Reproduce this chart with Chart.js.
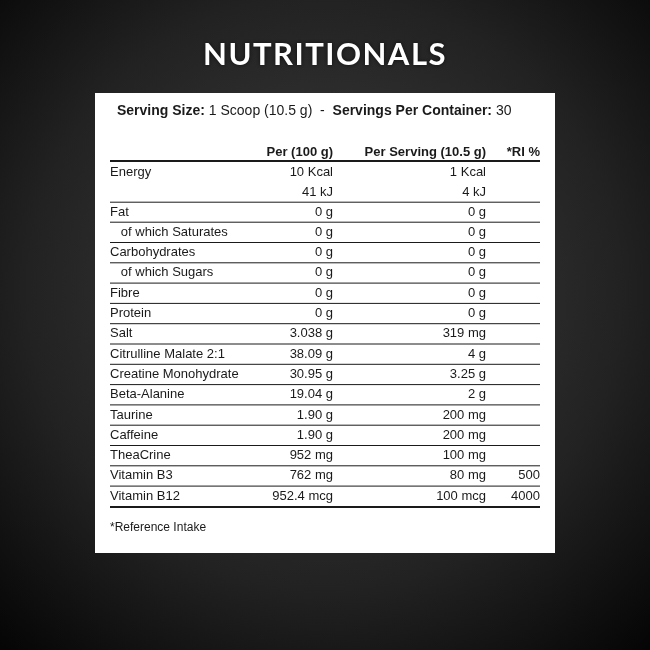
<!DOCTYPE html>
<html><head><meta charset="utf-8">
<script src="https://cdn.jsdelivr.net/npm/chart.js@4"></script>
<style>html,body{margin:0;padding:0;background:#000}canvas{display:block}</style>
</head><body>
<canvas id="c" width="650" height="650"></canvas>
<script>
const title = "NUTRITIONALS";
const servingBold1 = "Serving Size:";
const servingText1 = " 1 Scoop (10.5 g)  -  ";
const servingBold2 = "Servings Per Container:";
const servingText2 = " 30";
const headers = ["", "Per (100 g)", "Per Serving (10.5 g)", "*RI %"];
const labels = ["Energy","","Fat","   of which Saturates","Carbohydrates","   of which Sugars","Fibre","Protein","Salt","Citrulline Malate 2:1","Creatine Monohydrate","Beta-Alanine","Taurine","Caffeine","TheaCrine","Vitamin B3","Vitamin B12"];
const per100 = ["10 Kcal","41 kJ","0 g","0 g","0 g","0 g","0 g","0 g","3.038 g","38.09 g","30.95 g","19.04 g","1.90 g","1.90 g","952 mg","762 mg","952.4 mcg"];
const perServing = ["1 Kcal","4 kJ","0 g","0 g","0 g","0 g","0 g","0 g","319 mg","4 g","3.25 g","2 g","200 mg","200 mg","100 mg","80 mg","100 mcg"];
const riPct = ["","","","","","","","","","","","","","","","500","4000"];
const footnote = "*Reference Intake";

const F = '"Liberation Sans", Arial, sans-serif';
const tablePlugin = {
  id: 'table',
  beforeDraw(chart) {
    const ctx = chart.ctx, W = chart.width, H = chart.height;
    const g = ctx.createRadialGradient(W/2, H*0.45, 20, W/2, H*0.45, 480);
    g.addColorStop(0, '#3e3e3e'); g.addColorStop(0.6, '#222'); g.addColorStop(1, '#050505');
    ctx.fillStyle = g; ctx.fillRect(0, 0, W, H);
  },
  afterDraw(chart) {
    const ctx = chart.ctx, x = chart.scales.x, y = chart.scales.y;
    const X = v => x.getPixelForValue(v), Y = v => y.getPixelForValue(v);
    ctx.save();
    ctx.textBaseline = 'middle';
    ctx.fillStyle = '#fff'; ctx.font = 'bold 31px Lato, "Open Sans", sans-serif';
    ctx.textAlign = 'center';
    if ('letterSpacing' in ctx) ctx.letterSpacing = '1.5px';
    ctx.shadowColor = 'rgba(0,0,0,0.6)'; ctx.shadowBlur = 4;
    ctx.fillText(title, X(325), Y(55));
    ctx.shadowBlur = 0;
    if ('letterSpacing' in ctx) ctx.letterSpacing = '0px';
    ctx.fillRect(X(95), Y(93), X(555) - X(95), Y(553) - Y(93));
    ctx.fillStyle = '#1a1a1a'; ctx.textAlign = 'left';
    let cx = X(117);
    const parts = [[servingBold1, true],[servingText1,false],[servingBold2,true],[servingText2,false]];
    parts.forEach(([t,b]) => { ctx.font = (b?'bold ':'') + '14px ' + F; ctx.fillText(t, cx, Y(111)); cx += ctx.measureText(t).width; });
    ctx.font = 'bold 13px ' + F;
    ctx.textAlign = 'right';
    ctx.fillText(headers[1], X(333), Y(152));
    ctx.fillText(headers[2], X(486), Y(152));
    ctx.fillText(headers[3], X(540), Y(152));
    ctx.strokeStyle = '#1a1a1a';
    const line = (yy, w) => { ctx.lineWidth = w; ctx.beginPath(); ctx.moveTo(X(110), Y(yy)); ctx.lineTo(X(540), Y(yy)); ctx.stroke(); };
    line(161, 2);
    ctx.font = '13px ' + F;
    const pos = i => i < 2 ? 172 + i*20 : 212 + (i-2)*20.3;
    labels.forEach((l, i) => {
      const yy = pos(i);
      ctx.textAlign = 'left'; ctx.fillText(l, X(110), Y(yy));
      ctx.textAlign = 'right';
      ctx.fillText(per100[i], X(333), Y(yy));
      ctx.fillText(perServing[i], X(486), Y(yy));
      ctx.fillText(riPct[i], X(540), Y(yy));
      if (i >= 1 && i < labels.length - 1) line(yy + 10.2, 1);
    });
    line(507, 2);
    ctx.textAlign = 'left'; ctx.font = '12px ' + F;
    ctx.fillText(footnote, X(110), Y(528));
    ctx.restore();
  }
};
new Chart(document.getElementById('c'), {
  type: 'scatter',
  data: { datasets: [{ data: [], pointRadius: 0 }] },
  options: {
    responsive: false, animation: false, layout: { padding: 0 },
    plugins: { legend: { display: false }, tooltip: { enabled: false } },
    scales: { x: { display: false, min: 0, max: 650 }, y: { display: false, min: 0, max: 650, reverse: true } }
  },
  plugins: [tablePlugin]
});
</script>
</body></html>
